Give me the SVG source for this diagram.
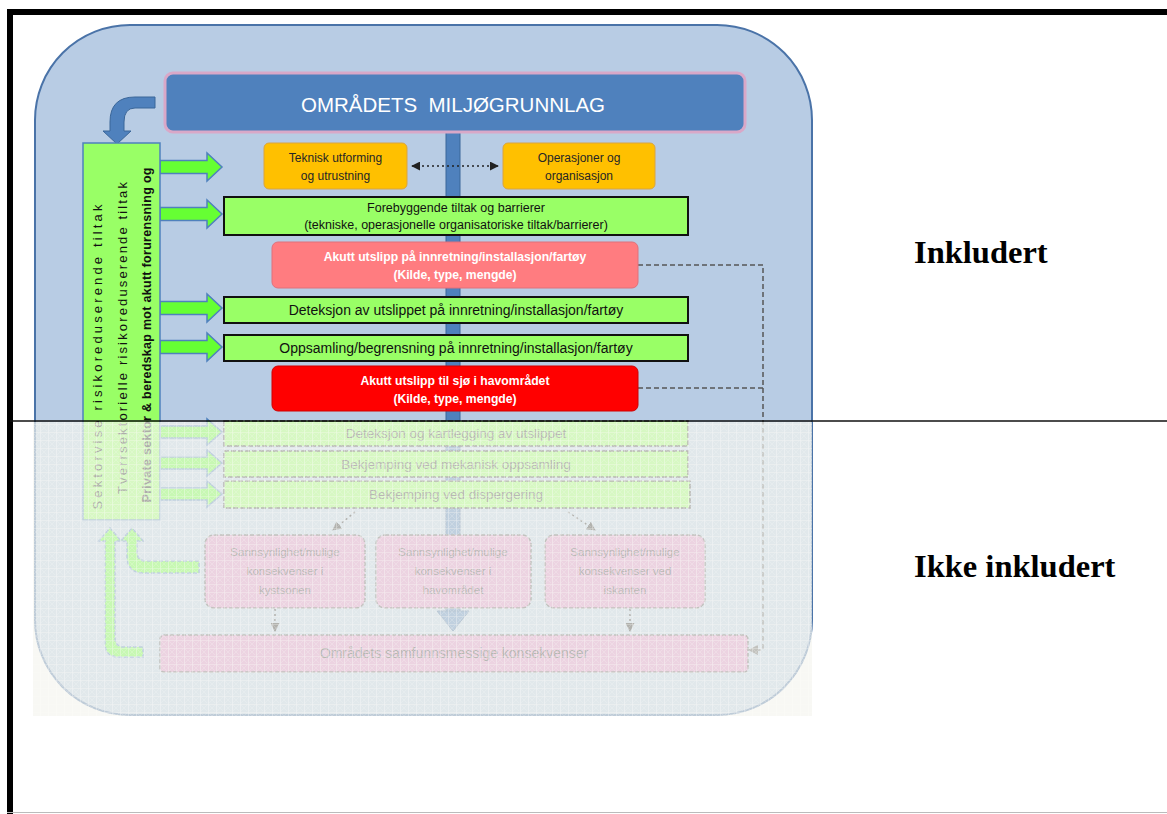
<svg xmlns="http://www.w3.org/2000/svg" width="1167" height="814" viewBox="0 0 1167 814">
<style>
.t{font-family:"Liberation Sans",Arial,sans-serif}
.g{fill:#99ff66;stroke:#111;stroke-width:2}
.gf{fill:#99ff66;stroke:#333;stroke-width:1.5;stroke-dasharray:5 2}
.ga{fill:#66ff33;stroke:#4f81bd;stroke-width:1.5}
.pk{fill:#d98cc4;stroke:#555;stroke-width:1.5;stroke-dasharray:4 2}
.dash{fill:none;stroke:#555;stroke-width:1.5;stroke-dasharray:5 3}
.dot{fill:none;stroke:#222;stroke-width:1.5;stroke-dasharray:2 3}
.lbl{font-family:"Liberation Serif","Times New Roman",serif;font-weight:bold;font-size:32.5px;fill:#000}
</style>
<defs>
<marker id="ah" viewBox="0 0 10 10" refX="9" refY="5" markerWidth="6" markerHeight="6" orient="auto-start-reverse"><path d="M0,0 L10,5 L0,10 z" fill="#222"/></marker>
<marker id="ahs" viewBox="0 0 10 10" refX="9" refY="5" markerWidth="7" markerHeight="7" orient="auto"><path d="M0,0 L10,5 L0,10 z" fill="#555"/></marker>
<pattern id="hatch" width="8" height="8" patternUnits="userSpaceOnUse">
<rect width="8" height="8" fill="#f4f4ee" fill-opacity="0.55"/>
<path d="M0,0 H8 M0,0 V8" stroke="#ffffff" stroke-opacity="0.6" stroke-width="1.2"/>
<path d="M1,1 L7,7 M7,1 L1,7" stroke="#ffffff" stroke-opacity="0.25" stroke-width="0.8"/>
</pattern>
</defs>
<rect width="1167" height="814" fill="#ffffff"/>
<!-- frame -->
<rect x="7" y="9" width="1160" height="6" fill="#000"/>
<rect x="7" y="9" width="6" height="805" fill="#000"/>
<line x1="7" y1="812.5" x2="1167" y2="812.5" stroke="#bbb" stroke-width="1"/>
<!-- background rounded panel -->
<rect id="panel" x="35" y="25" width="777" height="690" rx="95" ry="95" fill="#b8cce4" stroke="#4a73a8" stroke-width="2"/>
<!-- central bar -->
<g id="bar">
<rect x="446" y="132" width="14" height="482" fill="#4f81bd" stroke="#3a6699" stroke-width="1"/>
<path d="M437,611 L469,611 L453,631 Z" fill="#4f81bd" stroke="#3a6699" stroke-width="1"/>
</g>
<!-- connectors -->
<g id="connectors">
<path d="M155,97 L135,97 Q110,97 110,122 L110,131 L103,131 L117,144 L131,131 L124,131 L124,122 Q124,108 135,108 L155,108 Z" fill="#4f81bd" stroke="#3a6699" stroke-width="1"/>
<line x1="412" y1="166" x2="498" y2="166" class="dot" marker-start="url(#ah)" marker-end="url(#ah)" stroke-width="2.2"/>
<path d="M638,265 H763 V650 H749" class="dash" marker-end="url(#ahs)"/>
<path d="M638,388 H763" class="dash"/>
<path d="M160,160.5 H207 V153 L222,167 L207,181 V173.5 H160 Z" class="ga"/>
<path d="M160,207.5 H207 V200 L222,214 L207,228 V220.5 H160 Z" class="ga"/>
<path d="M160,301.5 H207 V294 L222,308 L207,322 V314.5 H160 Z" class="ga"/>
<path d="M160,340.5 H207 V333 L222,347 L207,361 V353.5 H160 Z" class="ga"/>
<path d="M160,426 H207 V419 L222,432 L207,445 V438 H160 Z" class="ga"/>
<path d="M160,457 H207 V450 L222,463 L207,476 V469 H160 Z" class="ga"/>
<path d="M160,488 H207 V481 L222,494 L207,507 V500 H160 Z" class="ga"/>
<line x1="355" y1="512" x2="333" y2="530" class="dot" marker-end="url(#ah)"/>
<line x1="568" y1="512" x2="595" y2="530" class="dot" marker-end="url(#ah)"/>
<line x1="275" y1="609" x2="275" y2="631" class="dot" marker-end="url(#ah)"/>
<line x1="630" y1="609" x2="630" y2="631" class="dot" marker-end="url(#ah)"/>
<path d="M199,561 H146 Q137,561 137,552 V541 H143 L132,528 L121,541 H127 V556 Q127,573 144,573 H199 Z" class="ga" stroke-dasharray="4 2"/>
<path d="M143,647 H124 Q115,647 115,638 V541 H121 L110,528 L99,541 H105 V643 Q105,657 119,657 H143 Z" class="ga" stroke-dasharray="4 2"/>
</g>
<!-- header -->
<g id="header">
<rect x="165" y="73" width="580" height="59" rx="8" fill="#4f81bd" stroke="#d9a8c8" stroke-width="3"/>
<text x="453" y="112" class="t" font-size="20.5" fill="#ffffff" text-anchor="middle" xml:space="preserve">OMRÅDETS  MILJØGRUNNLAG</text>
</g>
<!-- left vertical box -->
<g id="left-box">
<rect x="83" y="143" width="77" height="377" fill="#99ff66" stroke="#4f81bd" stroke-width="1.5"/>
<text class="t" font-size="13" fill="#111" text-anchor="middle" transform="translate(102,357) rotate(-90)" textLength="305" lengthAdjust="spacing">Sektorvise risikoreduserende tiltak</text>
<text class="t" font-size="13" fill="#111" text-anchor="middle" transform="translate(127,338) rotate(-90)" textLength="312" lengthAdjust="spacing">Tverrsektorielle risikoreduserende tiltak</text>
<text class="t" font-size="12.5" fill="#111" font-weight="bold" text-anchor="middle" transform="translate(151,335) rotate(-90)" textLength="335" lengthAdjust="spacing">Private sektor &amp; beredskap mot akutt forurensning og</text>
</g>
<g id="teknisk">
<rect x="264" y="143" width="143" height="46" rx="5" fill="#ffc000" stroke="#d9a441" stroke-width="1"/>
<text class="t" font-size="12" fill="#262626" text-anchor="middle"><tspan x="335.5" y="162">Teknisk utforming</tspan><tspan x="335.5" y="180">og utrustning</tspan></text>
</g>
<g id="operasjoner">
<rect x="503" y="143" width="152" height="46" rx="5" fill="#ffc000" stroke="#d9a441" stroke-width="1"/>
<text class="t" font-size="12" fill="#262626" text-anchor="middle"><tspan x="579" y="162">Operasjoner og</tspan><tspan x="579" y="180">organisasjon</tspan></text>
</g>
<g id="forebyggende">
<rect x="224" y="197" width="464" height="38" class="g"/>
<text class="t" font-size="12.5" fill="#111" text-anchor="middle"><tspan x="456" y="212">Forebyggende tiltak og barrierer</tspan><tspan x="456" y="229">(tekniske, operasjonelle organisatoriske tiltak/barrierer)</tspan></text>
</g>
<g id="akutt-innretning">
<rect x="272" y="242" width="366" height="46" rx="6" fill="#ff7c80" stroke="#e0707a" stroke-width="1"/>
<text class="t" font-size="12.2" font-weight="bold" fill="#ffffff" text-anchor="middle"><tspan x="455" y="261">Akutt utslipp på innretning/installasjon/fartøy</tspan><tspan x="455" y="279">(Kilde, type, mengde)</tspan></text>
</g>
<g id="deteksjon-innretning">
<rect x="224" y="297" width="464" height="26" class="g"/>
<text x="456" y="315" class="t" font-size="14" fill="#111" text-anchor="middle">Deteksjon av utslippet på innretning/installasjon/fartøy</text>
</g>
<g id="oppsamling-innretning">
<rect x="224" y="335" width="464" height="26" class="g"/>
<text x="456" y="353" class="t" font-size="14" fill="#111" text-anchor="middle">Oppsamling/begrensning på innretning/installasjon/fartøy</text>
</g>
<g id="akutt-sjo">
<rect x="272" y="366" width="366" height="45" rx="6" fill="#ff0000" stroke="#d00000" stroke-width="1"/>
<text class="t" font-size="12.2" font-weight="bold" fill="#ffffff" text-anchor="middle"><tspan x="455" y="385">Akutt utslipp til sjø i havområdet</tspan><tspan x="455" y="403">(Kilde, type, mengde)</tspan></text>
</g>
<g id="deteksjon-kartlegging">
<rect x="224" y="421" width="464" height="25" class="gf"/>
<text x="456" y="438" class="t" font-size="13.5" fill="#333" text-anchor="middle">Deteksjon og kartlegging av utslippet</text>
</g>
<g id="mekanisk">
<rect x="224" y="451" width="464" height="26" class="gf"/>
<text x="456" y="469" class="t" font-size="13.5" fill="#333" text-anchor="middle">Bekjemping ved mekanisk oppsamling</text>
</g>
<g id="dispergering">
<rect x="224" y="481" width="466" height="27" class="gf"/>
<text x="456" y="499" class="t" font-size="13.5" fill="#333" text-anchor="middle">Bekjemping ved dispergering</text>
</g>
<g id="kyst">
<rect x="205" y="535" width="160" height="73" rx="9" class="pk"/>
<text class="t" font-size="11.5" fill="#333" text-anchor="middle"><tspan x="285" y="556">Sannsynlighet/mulige</tspan><tspan x="285" y="575">konsekvenser i</tspan><tspan x="285" y="594">kystsonen</tspan></text>
</g>
<g id="hav">
<rect x="376" y="535" width="155" height="73" rx="9" class="pk"/>
<text class="t" font-size="11.5" fill="#333" text-anchor="middle"><tspan x="453" y="556">Sannsynlighet/mulige</tspan><tspan x="453" y="575">konsekvenser i</tspan><tspan x="453" y="594">havområdet</tspan></text>
</g>
<g id="iskant">
<rect x="545" y="535" width="160" height="73" rx="9" class="pk"/>
<text class="t" font-size="11.5" fill="#333" text-anchor="middle"><tspan x="625" y="556">Sannsynlighet/mulige</tspan><tspan x="625" y="575">konsekvenser ved</tspan><tspan x="625" y="594">iskanten</tspan></text>
</g>
<g id="samfunn">
<rect x="160" y="635" width="588" height="37" rx="4" class="pk"/>
<text x="454" y="658" class="t" font-size="14" fill="#333" text-anchor="middle">Områdets samfunnsmessige konsekvenser</text>
</g>
<!-- faded overlay -->
<rect x="33" y="422" width="779" height="294" fill="url(#hatch)"/>
<rect x="33" y="422" width="779" height="294" fill="#f4f4ee" fill-opacity="0.3"/>
<!-- divider and labels -->
<line x1="10" y1="421" x2="1167" y2="421" stroke="#111" stroke-width="1.6"/>
<text x="914" y="263" class="lbl">Inkludert</text>
<text x="914" y="577" class="lbl">Ikke inkludert</text>
</svg>
